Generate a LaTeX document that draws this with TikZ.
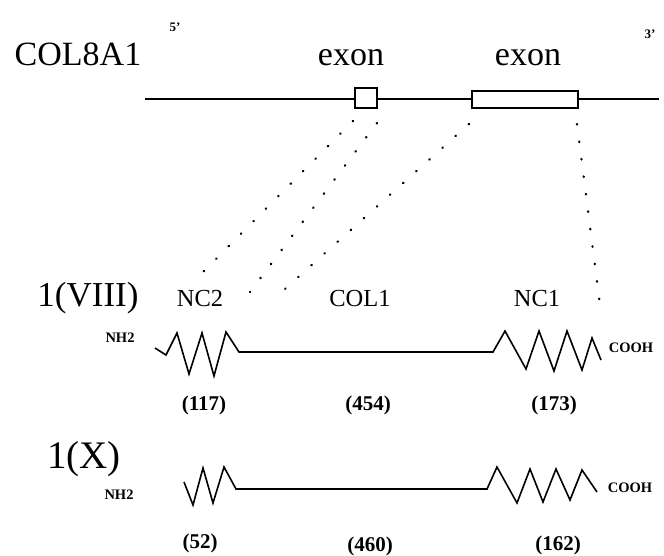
\documentclass[tikz,border=0pt]{standalone}
\usepackage{fontspec}
\setmainfont{Liberation Serif}
\begin{document}
\begin{tikzpicture}[x=1pt,y=-1pt,
  big/.style={font=\fontsize{34}{40}\selectfont, inner sep=0pt, anchor=base},
  bigx/.style={font=\fontsize{39}{44}\selectfont, inner sep=0pt, anchor=base},
  mid/.style={font=\fontsize{24.5}{28}\selectfont, inner sep=0pt, anchor=base},
  prime/.style={font=\bfseries\fontsize{13}{15}\selectfont, inner sep=0pt},
  term/.style={font=\bfseries\fontsize{14.5}{16}\selectfont, inner sep=0pt},
  num/.style={font=\bfseries\fontsize{21}{24}\selectfont, inner sep=0pt},
  gene/.style={line width=1.4pt},
  exonbox/.style={draw, line width=1.4pt, fill=white, inner sep=0pt},
  dots/.style={line width=2.3pt, dash pattern=on 0.6pt off 17pt, line cap=round},
  chain/.style={line width=1.6pt, line join=miter}]
\useasboundingbox[fill=white] (0,0) rectangle (664,555);

% gene
\node[prime] (p5) at (175,27) {5'};
\node[prime] (p3) at (650,34) {3'};
\node[big] (gene) at (78,65) {COL8A1};
\node[big] (exa) at (351,65) {exon};
\node[big] (exb) at (528,65) {exon};
\coordinate (gl) at (145,99);
\coordinate (gr) at (659,99);
\draw[gene] (gl) -- (gr);
\node[exonbox, minimum width=22pt, minimum height=20pt] (boxa) at (366,98) {};
\node[exonbox, minimum width=106pt, minimum height=17pt] (boxb) at (525,99.5) {};

% dotted projections
\coordinate (a1) at (353,121);  \coordinate (a2) at (196,279);
\coordinate (b1) at (377,123);  \coordinate (b2) at (250,292);
\coordinate (c1) at (469,124);  \coordinate (c2) at (276,297);
\coordinate (d1) at (577,124);  \coordinate (d2) at (601,313);
\draw[dots] (a1) -- (a2);
\draw[dots] (b1) -- (b2);
\draw[dots] (c1) -- (c2);
\draw[dots] (d1) -- (d2);

% alpha1(VIII)
\node[big, font=\fontsize{35}{40}\selectfont] (viii) at (88,306) {1(VIII)};
\node[mid] (nc2) at (200,306) {NC2};
\node[mid] (col1) at (360,306) {COL1};
\node[mid] (nc1) at (537,306) {NC1};
\node[term] (nha) at (120,338) {NH2};
\node[term] (cooha) at (631,348) {COOH};
\draw[chain] (155,348) -- (166,355) -- (177,333) -- (189,374) -- (202,333)
  -- (214,376) -- (226,332) -- (239,352) -- (493,352) -- (505,331)
  -- (526,369) -- (539,331) -- (554,371) -- (567,331) -- (582,370)
  -- (592,338) -- (601,360);
\node[num] (la1) at (204,405) {(117)};
\node[num] (la2) at (368,405) {(454)};
\node[num] (la3) at (554,405) {(173)};

% alpha1(X)
\node[bigx] (x) at (84,468) {1(X)};
\node[term] (nhb) at (119,495) {NH2};
\node[term] (coohb) at (630,488) {COOH};
\draw[chain] (184,482) -- (193,505) -- (203,468) -- (213,503) -- (224,467)
  -- (236,489) -- (487,489) -- (497,467) -- (517,503) -- (530,469)
  -- (543,502) -- (556,469) -- (570,500) -- (582,470) -- (597,492);
\node[num] (lb1) at (200,543) {(52)};
\node[num] (lb2) at (370,546) {(460)};
\node[num] (lb3) at (558,545) {(162)};
\end{tikzpicture}
\end{document}
